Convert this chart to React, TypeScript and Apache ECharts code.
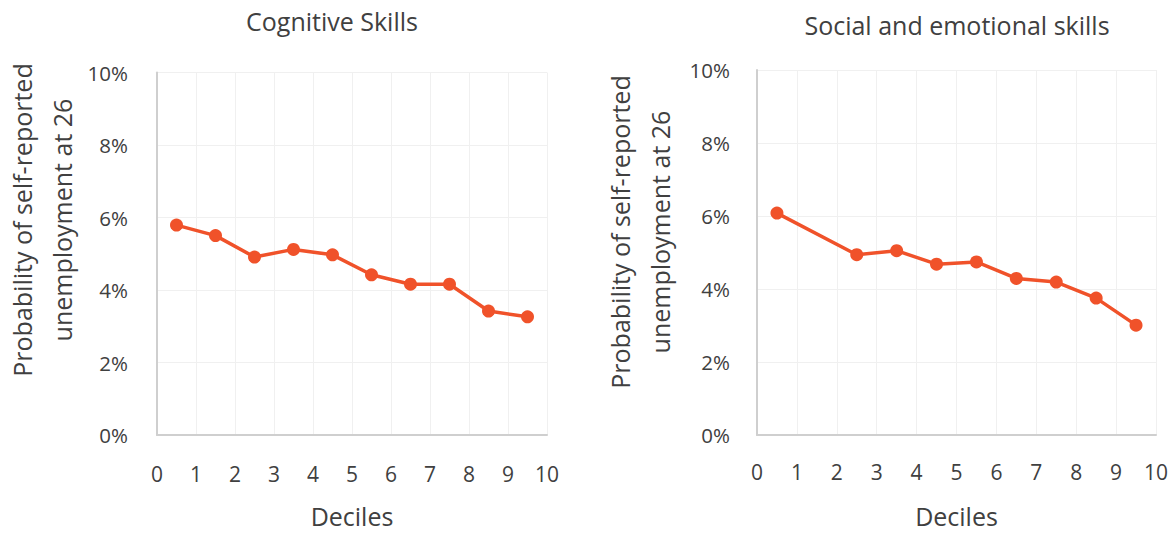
import React, { useEffect, useRef } from "react";
import * as echarts from "echarts";

const leftTitle = "Cognitive Skills";
const rightTitle = "Social and emotional skills";
const yAxisName = "Probability of self-reported\nunemployment at 26";
const xAxisName = "Deciles";

const cognitiveX = [0.5, 1.5, 2.5, 3.5, 4.5, 5.5, 6.5, 7.5, 8.5, 9.5];
const cognitiveY = [5.79, 5.5, 4.91, 5.12, 4.97, 4.42, 4.16, 4.16, 3.42, 3.26];

const socialX = [0.5, 2.5, 3.5, 4.5, 5.5, 6.5, 7.5, 8.5, 9.5];
const socialY = [6.08, 4.94, 5.05, 4.68, 4.74, 4.29, 4.19, 3.75, 3.01];

const FONT = "'Open Sans', sans-serif";
const TEXT = "#404040";
const LINE = "#f0522a";

export default function App() {
  const ref = useRef<HTMLDivElement>(null);
  useEffect(() => {
    if (!ref.current) return;
    const chart = echarts.init(ref.current, undefined, { renderer: "svg" });
    const xAxisBase = (gridIndex: number, margin: number, nameGap: number) => ({
      type: "value",
      gridIndex,
      min: 0,
      max: 10,
      interval: 1,
      name: xAxisName,
      nameLocation: "middle",
      nameGap,
      nameTextStyle: { fontFamily: FONT, fontSize: 25, color: TEXT },
      axisLine: { show: true, lineStyle: { color: "#cfcfcf", width: 2 } },
      axisTick: { show: false },
      axisLabel: { fontFamily: FONT, fontSize: 21, color: TEXT, margin },
      splitLine: { show: true, lineStyle: { color: "#f0f0f0", width: 1 } },
    });
    const yAxisBase = (gridIndex: number, margin: number) => ({
      type: "value",
      gridIndex,
      min: 0,
      max: 10,
      interval: 2,
      axisLine: { show: true, lineStyle: { color: "#cfcfcf", width: 2 } },
      axisTick: { show: false },
      axisLabel: {
        fontFamily: FONT,
        fontSize: 20.5,
        color: TEXT,
        margin,
        formatter: (v: number) => `${v}%`,
      },
      splitLine: { show: true, lineStyle: { color: "#f0f0f0", width: 1 } },
    });
    const seriesBase = (xs: number[], ys: number[], idx: number) => ({
      type: "line",
      xAxisIndex: idx,
      yAxisIndex: idx,
      data: xs.map((x, i) => [x, ys[i]]),
      symbol: "circle",
      symbolSize: 13,
      lineStyle: { color: LINE, width: 3.5 },
      itemStyle: { color: LINE },
      z: 5,
    });
    chart.setOption({
      animation: false,
      backgroundColor: "#ffffff",
      title: [
        {
          text: leftTitle,
          left: 327,
          top: 3,
          textAlign: "center",
          textStyle: { fontFamily: FONT, fontSize: 25, fontWeight: "normal", color: TEXT },
        },
        {
          text: rightTitle,
          left: 952,
          top: 7,
          textAlign: "center",
          textStyle: { fontFamily: FONT, fontSize: 25, fontWeight: "normal", color: TEXT },
        },
      ],
      grid: [
        { left: 157, top: 72.5, width: 390, height: 366.5 },
        { left: 757, top: 70, width: 400, height: 365 },
      ],
      xAxis: [xAxisBase(0, 28, 68), xAxisBase(1, 26, 68)],
      yAxis: [yAxisBase(0, 29), yAxisBase(1, 27)],
      series: [seriesBase(cognitiveX, cognitiveY, 0), seriesBase(socialX, socialY, 1)],
      graphic: [
        {
          type: "text",
          x: 42,
          y: 220,
          rotation: Math.PI / 2,
          style: {
            text: yAxisName,
            fontFamily: FONT,
            fontSize: 25,
            lineHeight: 40,
            fill: TEXT,
            align: "center",
            verticalAlign: "middle",
          },
        },
        {
          type: "text",
          x: 640,
          y: 232,
          rotation: Math.PI / 2,
          style: {
            text: yAxisName,
            fontFamily: FONT,
            fontSize: 25,
            lineHeight: 40,
            fill: TEXT,
            align: "center",
            verticalAlign: "middle",
          },
        },
      ],
    });
    return () => chart.dispose();
  }, []);
  return (
    <div
      ref={ref}
      style={{ position: "fixed", left: 0, top: 0, width: 1171, height: 533 }}
    />
  );
}
